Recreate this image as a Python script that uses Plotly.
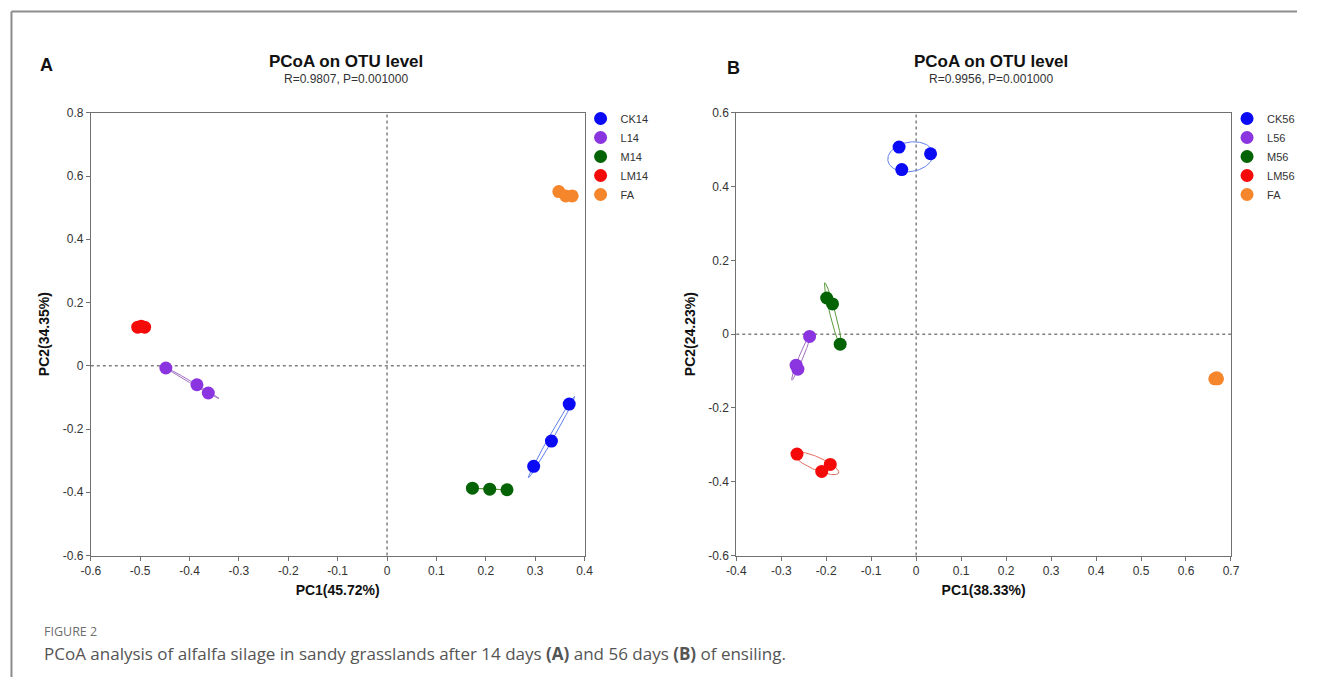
import numpy as np
import plotly.graph_objects as go

# page is 1322x700; the html body keeps its default 8px margin, so the figure is 16px smaller
PAGE_W, PAGE_H = 1322, 700
OFF = 8
W, H = PAGE_W - 2 * OFF, PAGE_H - 2 * OFF

# ---------------- data ----------------
groups_a = ["CK14", "L14", "M14", "LM14", "FA"]
groups_b = ["CK56", "L56", "M56", "LM56", "FA"]
colors = ["#0a0af5", "#8a35e0", "#046304", "#f50a0a", "#f5862c"]
ell_colors = ["#5f7fe8", "#a070c0", "#5a9a3a", "#e07060", "#f5a060"]

pc1_a = {
    "CK14": [0.297, 0.333, 0.369],
    "L14": [-0.448, -0.385, -0.362],
    "M14": [0.173, 0.208, 0.243],
    "LM14": [-0.505, -0.498, -0.491],
    "FA": [0.348, 0.362, 0.375],
}
pc2_a = {
    "CK14": [-0.318, -0.238, -0.121],
    "L14": [-0.007, -0.060, -0.086],
    "M14": [-0.387, -0.390, -0.392],
    "LM14": [0.122, 0.125, 0.122],
    "FA": [0.551, 0.537, 0.537],
}
pc1_b = {
    "CK56": [-0.038, 0.032, -0.032],
    "L56": [-0.237, -0.267, -0.263],
    "M56": [-0.199, -0.186, -0.169],
    "LM56": [-0.265, -0.191, -0.210],
    "FA": [0.664, 0.668, 0.670],
}
pc2_b = {
    "CK56": [0.507, 0.489, 0.446],
    "L56": [-0.006, -0.084, -0.095],
    "M56": [0.098, 0.082, -0.027],
    "LM56": [-0.325, -0.353, -0.372],
    "FA": [-0.121, -0.118, -0.121],
}

xticks_a = [-0.6, -0.5, -0.4, -0.3, -0.2, -0.1, 0, 0.1, 0.2, 0.3, 0.4]
xticklabels_a = ["-0.6", "-0.5", "-0.4", "-0.3", "-0.2", "-0.1", "0", "0.1", "0.2", "0.3", "0.4"]
yticks_a = [-0.6, -0.4, -0.2, 0, 0.2, 0.4, 0.6, 0.8]
yticklabels_a = ["-0.6", "-0.4", "-0.2", "0", "0.2", "0.4", "0.6", "0.8"]
xticks_b = [-0.4, -0.3, -0.2, -0.1, 0, 0.1, 0.2, 0.3, 0.4, 0.5, 0.6, 0.7]
xticklabels_b = ["-0.4", "-0.3", "-0.2", "-0.1", "0", "0.1", "0.2", "0.3", "0.4", "0.5", "0.6", "0.7"]
yticks_b = [-0.6, -0.4, -0.2, 0, 0.2, 0.4, 0.6]
yticklabels_b = ["-0.6", "-0.4", "-0.2", "0", "0.2", "0.4", "0.6"]

title_text = "PCoA on OTU level"
stat_a = "R=0.9807, P=0.001000"
stat_b = "R=0.9956, P=0.001000"
xlab_a, ylab_a = "PC1(45.72%)", "PC2(34.35%)"
xlab_b, ylab_b = "PC1(38.33%)", "PC2(24.23%)"

# ---------------- helpers ----------------
def px_x(p):
    return (p - OFF) / W

def px_y(p):
    return 1 - (p - OFF) / H

def ellipse(xs, ys, k=1.3, n=120):
    xs = np.asarray(xs, float)
    ys = np.asarray(ys, float)
    cov = np.cov(np.vstack([xs, ys]))
    vals, vecs = np.linalg.eigh(cov)
    vals = np.clip(vals, 1e-7, None)
    t = np.linspace(0, 2 * np.pi, n)
    circ = np.vstack([np.cos(t), np.sin(t)])
    pts = vecs @ (np.sqrt(vals)[:, None] * circ) * k
    return xs.mean() + pts[0], ys.mean() + pts[1]

FONT = "Liberation Sans, Arial, sans-serif"

fig = go.Figure()

def add_panel(groups, pc1, pc2, xa, ya, legend):
    for g, c, ec in zip(groups, colors, ell_colors):
        if g != "FA" and not g.startswith("LM1"):
            ex, ey = ellipse(pc1[g], pc2[g])
            fig.add_trace(go.Scatter(x=ex, y=ey, mode="lines", xaxis=xa, yaxis=ya,
                                     line=dict(color=ec, width=1), showlegend=False,
                                     hoverinfo="skip"))
    for g, c in zip(groups, colors):
        fig.add_trace(go.Scatter(x=pc1[g], y=pc2[g], mode="markers", name=g,
                                 xaxis=xa, yaxis=ya, legend=legend,
                                 marker=dict(color=c, size=13, line=dict(width=0))))

add_panel(groups_a, pc1_a, pc2_a, "x", "y", "legend")
add_panel(groups_b, pc1_b, pc2_b, "x2", "y2", "legend2")

axis_common = dict(showline=True, linecolor="#707070", linewidth=1, mirror=True,
                   ticks="outside", ticklen=4, tickcolor="#707070",
                   showgrid=False, zeroline=False,
                   tickfont=dict(family=FONT, size=12, color="#333333"))
title_font = dict(family=FONT, size=14, color="#111111")

fig.update_layout(
    width=W, height=H, margin=dict(l=0, r=0, t=0, b=0),
    paper_bgcolor="white", plot_bgcolor="white",
    font=dict(family=FONT),
    xaxis=dict(domain=[px_x(90), px_x(591)], range=[-0.6, 0.4], tickvals=xticks_a,
               ticktext=xticklabels_a, anchor="y",
               title=dict(text="<b>" + xlab_a + "</b>", font=title_font, standoff=8),
               **axis_common),
    yaxis=dict(domain=[px_y(568), px_y(116)], range=[-0.6, 0.8], tickvals=yticks_a,
               ticktext=yticklabels_a, anchor="x",
               title=dict(text="<b>" + ylab_a + "</b>", font=title_font, standoff=9),
               **axis_common),
    xaxis2=dict(domain=[px_x(745), px_x(1247)], range=[-0.4, 0.7], tickvals=xticks_b,
                ticktext=xticklabels_b, anchor="y2",
                title=dict(text="<b>" + xlab_b + "</b>", font=title_font, standoff=8),
                **axis_common),
    yaxis2=dict(domain=[px_y(568), px_y(116)], range=[-0.6, 0.6], tickvals=yticks_b,
                ticktext=yticklabels_b, anchor="x2",
                title=dict(text="<b>" + ylab_b + "</b>", font=title_font, standoff=9),
                **axis_common),
    legend=dict(x=px_x(587), y=px_y(107), xanchor="left", yanchor="top",
                font=dict(family=FONT, size=11, color="#333333"),
                itemsizing="trace", tracegroupgap=0, bgcolor="rgba(0,0,0,0)"),
    legend2=dict(x=px_x(1243), y=px_y(107), xanchor="left", yanchor="top",
                 font=dict(family=FONT, size=11, color="#333333"),
                 itemsizing="trace", tracegroupgap=0, bgcolor="rgba(0,0,0,0)"),
)

# dotted zero lines
for xa, ya in [("x", "y"), ("x2", "y2")]:
    fig.add_shape(type="line", xref=xa, yref=ya + " domain", x0=0, x1=0, y0=0, y1=1,
                  line=dict(color="#808080", width=1.5, dash="dot"), layer="below")
    fig.add_shape(type="line", xref=xa + " domain", yref=ya, x0=0, x1=1, y0=0, y1=0,
                  line=dict(color="#808080", width=1.5, dash="dot"), layer="below")

# outer frame
fig.add_shape(type="line", xref="paper", yref="paper", x0=px_x(9.5), x1=1, y0=px_y(12.5),
              y1=px_y(12.5), line=dict(color="#8c8c8c", width=2))
fig.add_shape(type="line", xref="paper", yref="paper", x0=px_x(9.5), x1=px_x(9.5),
              y0=px_y(12.5), y1=0, line=dict(color="#8c8c8c", width=2))

ann = []
def txt(x, y, s, size, color="#111111", bold=False, xanchor="center", family=FONT):
    ann.append(dict(x=px_x(x), y=px_y(y), xref="paper", yref="paper", text=("<b>" + s + "</b>") if bold else s,
                    showarrow=False, xanchor=xanchor, yanchor="middle",
                    font=dict(family=family, size=size, color=color)))

txt(45, 67, "A", 18, bold=True)
txt(742, 70, "B", 18, bold=True)
txt(349, 64, title_text, 17, bold=True)
txt(349, 81, stat_a, 12, color="#333333")
txt(1003, 64, title_text, 17, bold=True)
txt(1003, 81, stat_b, 12, color="#333333")
CAP = "Open Sans, Lato, sans-serif"
txt(40, 646, "FIGURE 2", 12.5, color="#6e6e6e", xanchor="left", family=CAP)
txt(40, 668, "PCoA analysis of alfalfa silage in sandy grasslands after 14 days <b>(A)</b> and 56 days <b>(B)</b> of ensiling.",
    17, color="#555555", xanchor="left", family=CAP)
fig.update_layout(annotations=ann)

fig.write_html("out.html")
